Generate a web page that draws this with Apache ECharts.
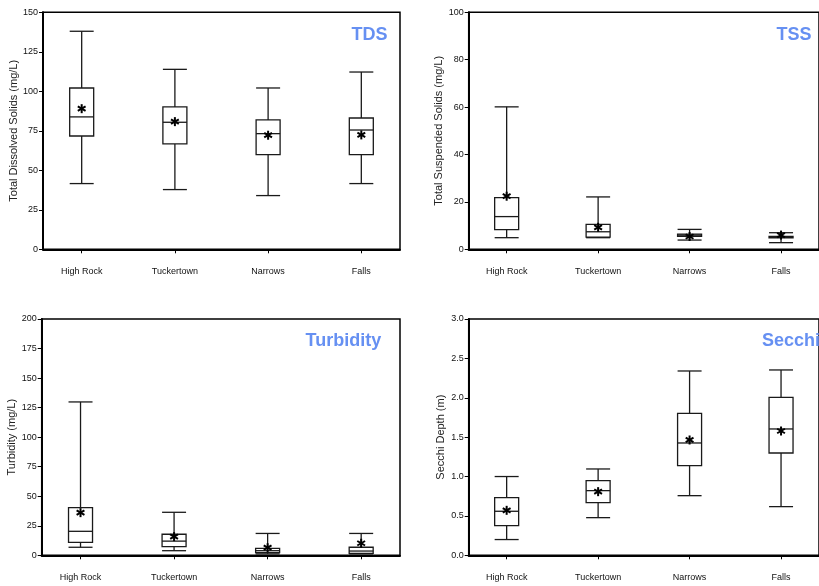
<!DOCTYPE html>
<html>
<head>
<meta charset="utf-8">
<script src="https://cdn.jsdelivr.net/npm/echarts@6/dist/echarts.min.js"></script>
<style>
  html, body { margin: 0; padding: 0; background: #fff; }
  #chart { width: 819px; height: 586px; }
</style>
</head>
<body>
<div id="chart"></div>
<script>
// Sampling stations along the river
const categories = ['High Rock', 'Tuckertown', 'Narrows', 'Falls'];

// Box statistics per station: [low whisker, Q1, median, Q3, high whisker]
const tdsBox = [
  [41.6, 71.7, 83.8, 102.1, 138.0],
  [37.8, 66.7, 80.4, 90.1, 113.9],
  [34.0, 59.9, 73.2, 81.9, 102.1],
  [41.6, 59.9, 75.5, 83.1, 112.2]
];
const tdsMean = [89.0, 80.8, 72.2, 72.4];

const tssBox = [
  [4.9, 8.3, 13.8, 21.8, 60.1],
  [4.9, 5.1, 7.4, 10.5, 22.1],
  [3.9, 5.5, 6.0, 6.4, 8.4],
  [2.8, 4.8, 5.1, 5.4, 7.0]
];
const tssMean = [22.4, 9.3, 5.4, 6.0];

const turbBox = [
  [6.8, 11.0, 20.3, 40.3, 129.8],
  [3.9, 7.3, 12.0, 17.8, 36.4],
  [1.2, 2.2, 3.9, 5.9, 18.5],
  [1.2, 1.7, 3.6, 6.8, 18.5]
];
const turbMean = [36.1, 15.8, 6.4, 10.2];

const secchiBox = [
  [0.20, 0.377, 0.559, 0.732, 1.00],
  [0.478, 0.669, 0.821, 0.948, 1.096],
  [0.757, 1.138, 1.426, 1.803, 2.34],
  [0.618, 1.299, 1.604, 2.006, 2.353]
];
const secchiMean = [0.571, 0.808, 1.464, 1.578];

// Y axis settings per panel
const yMax = [150, 100, 200, 3.0];
const yStep = [25, 20, 25, 0.5];
const yNames = [
  'Total Dissolved Solids (mg/L)',
  'Total Suspended Solids (mg/L)',
  'Turbidity (mg/L)',
  'Secchi Depth (m)'
];
const panelTitles = ['TDS', 'TSS', 'Turbidity', 'Secchi'];

const boxes = [tdsBox, tssBox, turbBox, secchiBox];
const means = [tdsMean, tssMean, turbMean, secchiMean];

const FONT = "'Liberation Sans', Arial, 'DejaVu Sans', sans-serif";
const TITLE_COLOR = '#6690f2';

const grids = [
  { left: 43, top: 12.3, width: 357, height: 237 },
  { left: 468.7, top: 12.3, width: 357, height: 237 },
  { left: 41.7, top: 319, width: 358.3, height: 236.3 },
  { left: 468.7, top: 319, width: 357, height: 236.3 }
];
const titlePos = [
  { x: 351.5, y: 35.5 },
  { x: 776.5, y: 35.5 },
  { x: 305.5, y: 341 },
  { x: 762, y: 341 }
];

function renderBox(params, api) {
  const i = api.value(0);
  const lo = api.coord([i, api.value(1)]);
  const q1 = api.coord([i, api.value(2)]);
  const md = api.coord([i, api.value(3)]);
  const q3 = api.coord([i, api.value(4)]);
  const hi = api.coord([i, api.value(5)]);
  const cx = lo[0];
  const hw = 12;
  const style = { stroke: '#1a1a1a', lineWidth: 1.3, fill: null };
  return {
    type: 'group',
    children: [
      { type: 'line', shape: { x1: cx, y1: hi[1], x2: cx, y2: q3[1] }, style },
      { type: 'line', shape: { x1: cx - hw, y1: hi[1], x2: cx + hw, y2: hi[1] }, style },
      { type: 'rect', shape: { x: cx - hw, y: q3[1], width: 2 * hw, height: q1[1] - q3[1] }, style },
      { type: 'line', shape: { x1: cx - hw, y1: md[1], x2: cx + hw, y2: md[1] }, style },
      { type: 'line', shape: { x1: cx, y1: q1[1], x2: cx, y2: lo[1] }, style },
      { type: 'line', shape: { x1: cx - hw, y1: lo[1], x2: cx + hw, y2: lo[1] }, style }
    ]
  };
}

function renderMean(params, api) {
  const p = api.coord([api.value(0), api.value(1)]);
  const r = 4.5;
  const style = { stroke: '#000', lineWidth: 2 };
  const children = [];
  for (let k = 0; k < 3; k++) {
    const a = Math.PI / 2 + k * Math.PI / 3;
    const dx = r * Math.cos(a), dy = r * Math.sin(a);
    children.push({ type: 'line', shape: { x1: p[0] - dx, y1: p[1] - dy, x2: p[0] + dx, y2: p[1] + dy }, style });
  }
  return { type: 'group', children };
}

const option = {
  backgroundColor: '#fff',
  animation: false,
  grid: grids.map(g => Object.assign({ show: true, borderColor: '#000', borderWidth: 1.5, backgroundColor: 'transparent' }, g)),
  xAxis: grids.map((g, k) => ({
    type: 'value',
    gridIndex: k,
    min: -0.415,
    max: 3.415,
    splitLine: { show: false },
    axisLine: { show: true, onZero: false, lineStyle: { color: '#000', width: 2 } },
    axisTick: { show: true, customValues: [0, 1, 2, 3], length: 4, lineStyle: { color: '#000', width: 1 } },
    axisLabel: {
      customValues: [0, 1, 2, 3],
      formatter: v => categories[Math.round(v)],
      margin: 18,
      fontSize: 9,
      color: '#111',
      fontFamily: FONT
    }
  })),
  yAxis: grids.map((g, k) => ({
    type: 'value',
    gridIndex: k,
    min: 0,
    max: yMax[k],
    interval: yStep[k],
    name: yNames[k],
    nameLocation: 'middle',
    nameGap: 22,
    nameTextStyle: { fontSize: 11, color: '#222', fontFamily: FONT },
    splitLine: { show: false },
    axisLine: { show: true, onZero: false, lineStyle: { color: '#000', width: 2 } },
    axisTick: { show: true, length: 4, lineStyle: { color: '#000', width: 1 } },
    axisLabel: {
      margin: 5,
      fontSize: 9,
      color: '#111',
      fontFamily: FONT,
      formatter: v => (k === 3 ? v.toFixed(1) : String(v))
    }
  })),
  series: [].concat(
    boxes.map((b, k) => ({
      type: 'custom',
      xAxisIndex: k,
      yAxisIndex: k,
      renderItem: renderBox,
      encode: { x: 0, y: [1, 2, 3, 4, 5] },
      data: b.map((row, i) => [i].concat(row)),
      z: 2
    })),
    means.map((m, k) => ({
      type: 'custom',
      xAxisIndex: k,
      yAxisIndex: k,
      renderItem: renderMean,
      encode: { x: 0, y: 1 },
      data: m.map((v, i) => [i, v]),
      z: 3
    }))
  ),
  graphic: panelTitles.map((t, k) => ({
    type: 'text',
    x: titlePos[k].x,
    y: titlePos[k].y,
    style: {
      text: t,
      fill: TITLE_COLOR,
      font: "bold 18px " + FONT,
      textAlign: 'left',
      textVerticalAlign: 'middle'
    }
  }))
};

const chart = echarts.init(document.getElementById('chart'), null, { renderer: 'canvas' });
chart.setOption(option);
</script>
</body>
</html>
